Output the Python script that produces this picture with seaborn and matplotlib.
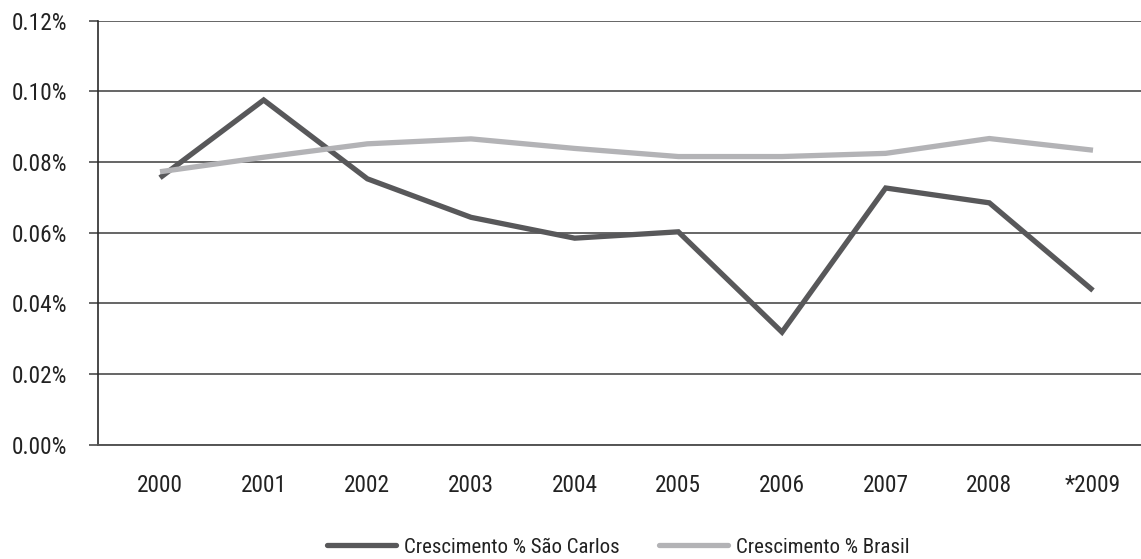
import matplotlib
matplotlib.use("Agg")
import matplotlib.pyplot as plt
from matplotlib.ticker import FuncFormatter
import pandas as pd
import seaborn as sns

# Annual growth (%), São Carlos vs. Brasil
anos = ["2000", "2001", "2002", "2003", "2004", "2005", "2006", "2007", "2008", "*2009"]
sao_carlos = [0.0755, 0.0975, 0.0752, 0.0643, 0.0584, 0.0602, 0.0318, 0.0726, 0.0684, 0.0436]
brasil = [0.0772, 0.0813, 0.0851, 0.0865, 0.0838, 0.0815, 0.0815, 0.0824, 0.0866, 0.0833]
series = ["Crescimento % São Carlos", "Crescimento % Brasil"]
y_ticks = [0.00, 0.02, 0.04, 0.06, 0.08, 0.10, 0.12]

df = pd.DataFrame({
    "pos": list(range(len(anos))) * 2,
    "valor": sao_carlos + brasil,
    "serie": [series[0]] * len(anos) + [series[1]] * len(anos),
})

sns.set_theme(style="white")
plt.rcParams["font.family"] = ["Roboto Condensed", "DejaVu Sans"]

fig = plt.figure(figsize=(11.41, 5.59), dpi=100)
ax = fig.add_axes([0.0859, 0.2048, 0.9141, 0.7585])

palette = {series[0]: "#58585a", series[1]: "#b3b3b6"}
sns.lineplot(data=df, x="pos", y="valor", hue="serie", hue_order=series,
             palette=palette, linewidth=3.8, ax=ax, legend=False,
             solid_joinstyle="miter", solid_capstyle="butt")

ax.set_xlim(-0.598, 9.463)
ax.set_ylim(0, 0.12)
ax.set_yticks(y_ticks)
ax.yaxis.set_major_formatter(FuncFormatter(lambda v, _: f"{v:.2f}%"))
ax.set_xticks(range(len(anos)))
ax.set_xticklabels(anos)
ax.set_xlabel("")
ax.set_ylabel("")

ax.grid(axis="y", color="#3c3c3c", linewidth=1.1)
ax.set_axisbelow(True)
for side in ["top", "right"]:
    ax.spines[side].set_visible(False)
ax.spines["left"].set_color("#2a2a2a")
ax.spines["left"].set_linewidth(1.2)
ax.spines["bottom"].set_color("#555555")
ax.spines["bottom"].set_linewidth(1.4)

ax.tick_params(axis="y", length=6.5, width=1.1, color="#3c3c3c", pad=16,
               labelsize=16.8, labelcolor="#222222", left=True)
ax.tick_params(axis="x", length=0, pad=21, labelsize=16.8, labelcolor="#222222")

handles = [plt.Line2D([], [], color=palette[s], linewidth=3.8) for s in series]
fig.legend(handles, series, loc="center left", bbox_to_anchor=(327 / 1141, 0.021),
           ncol=2, frameon=False, fontsize=15, borderpad=0, borderaxespad=0,
           handlelength=3.3, handletextpad=0.38, columnspacing=1.9,
           labelcolor="#222222")

fig.savefig("out.png", dpi=100)
